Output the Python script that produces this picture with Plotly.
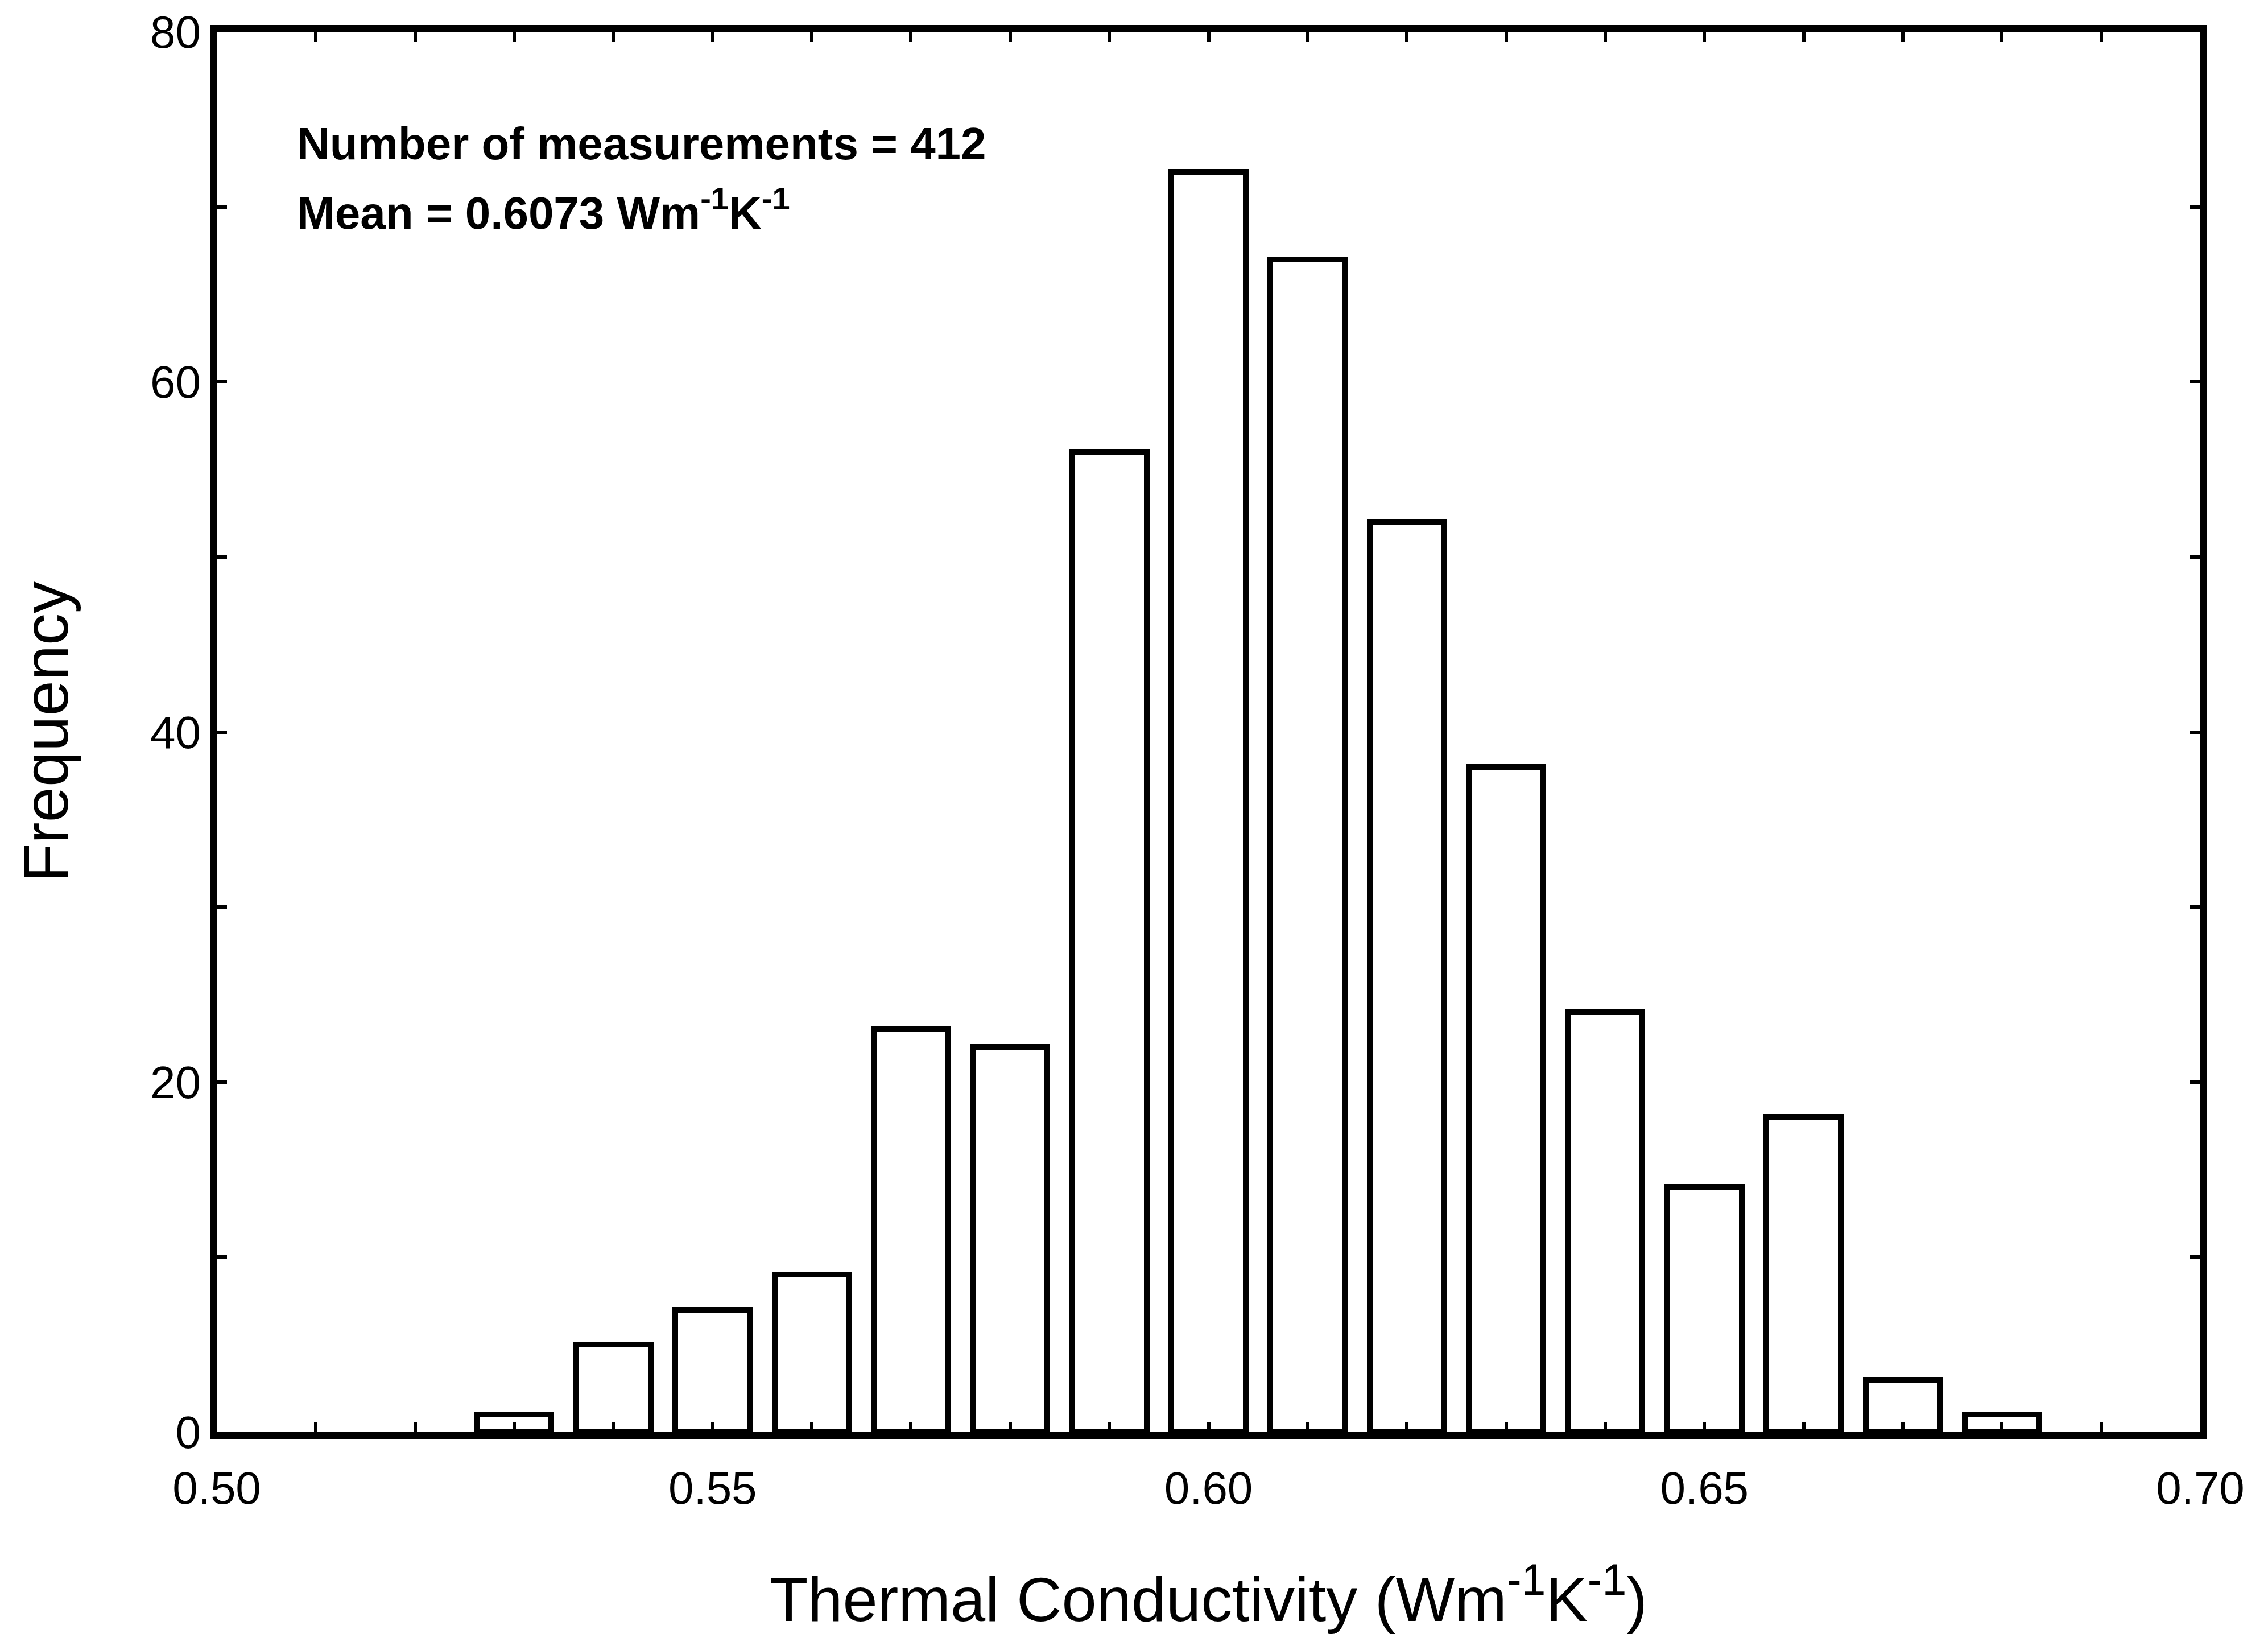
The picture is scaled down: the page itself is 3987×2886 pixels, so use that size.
import plotly.graph_objects as go

# Data
bin_centers = [0.53, 0.54, 0.55, 0.56, 0.57, 0.58, 0.59, 0.60,
               0.61, 0.62, 0.63, 0.64, 0.65, 0.66, 0.67, 0.68]
frequency = [1, 5, 7, 9, 23, 22, 56, 72, 67, 52, 38, 24, 14, 18, 3, 1]

x_ticks = [0.50, 0.55, 0.60, 0.65, 0.70]
x_ticklabels = ["0.50", "0.55", "0.60", "0.65", "0.70"]
y_ticks = [0, 20, 40, 60, 80]
y_ticklabels = ["0", "20", "40", "60", "80"]

FONT = "Liberation Sans, Arial, Helvetica, sans-serif"

fig = go.Figure()
fig.add_trace(go.Bar(
    x=bin_centers, y=frequency, width=0.0075,
    marker=dict(color="white", line=dict(color="black", width=10)),
    showlegend=False,
))

axis_common = dict(
    showline=True, linecolor="black", linewidth=12, mirror="ticks",
    ticks="inside", ticklen=18, tickwidth=6, tickcolor="black",
    showgrid=False, zeroline=False,
    tickfont=dict(family=FONT, size=80, color="black"),
)

fig.update_xaxes(
    range=[0.50, 0.70], tickmode="array", tickvals=x_ticks, ticktext=x_ticklabels,
    ticklabelstandoff=18,
    minor=dict(dtick=0.01, tick0=0.5, ticks="inside", ticklen=18, tickwidth=6, tickcolor="black"),
    title=dict(text="Thermal Conductivity (Wm<sup>-1</sup>K<sup>-1</sup>)",
               font=dict(family=FONT, size=110, color="black"), standoff=118),
    **axis_common,
)
fig.update_yaxes(
    range=[0, 80], tickmode="array", tickvals=y_ticks, ticktext=y_ticklabels,
    minor=dict(dtick=10, tick0=0, ticks="inside", ticklen=18, tickwidth=6, tickcolor="black"),
    title=dict(text="Frequency", font=dict(family=FONT, size=112, color="black"), standoff=112),
    **axis_common,
)

fig.add_annotation(x=0.508, y=73.6, xref="x", yref="y", xanchor="left", yanchor="middle",
                   text="Number of measurements = 412", showarrow=False,
                   font=dict(family=FONT, size=80, color="black", weight="bold"))
fig.add_annotation(x=0.508, y=69.85, xref="x", yref="y", xanchor="left", yanchor="middle",
                   text="Mean = 0.6073 Wm<sup>-1</sup>K<sup>-1</sup>", showarrow=False,
                   font=dict(family=FONT, size=80, color="black", weight="bold"))

fig.update_layout(
    width=3987, height=2886,
    margin=dict(l=381, r=119, t=51, b=369),
    paper_bgcolor="white", plot_bgcolor="white",
    bargap=0,
)

fig.write_html("out.html")
